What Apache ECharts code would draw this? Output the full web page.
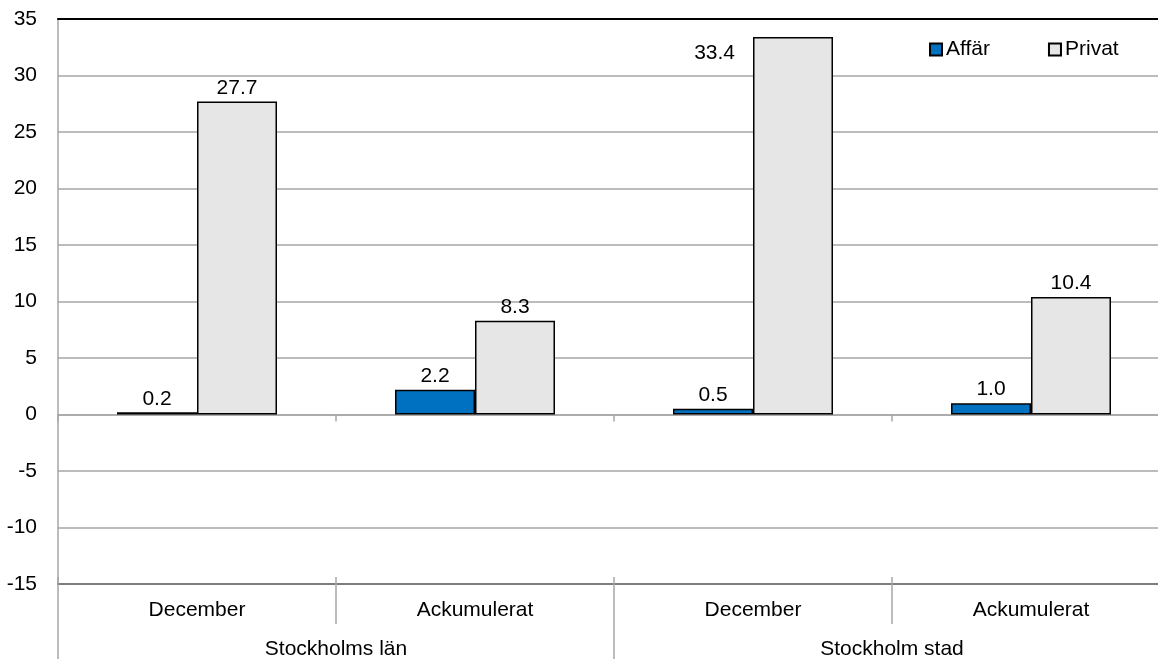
<!DOCTYPE html>
<html><head><meta charset="utf-8">
<script src="https://cdn.jsdelivr.net/npm/echarts@6/dist/echarts.min.js"></script>
<style>html,body{margin:0;padding:0;background:#fff}#c{width:1158px;height:659px}</style>
</head><body><div id="c"></div>
<script>
const categories = ['December', 'Ackumulerat', 'December', 'Ackumulerat'];
const groups = ['Stockholms län', 'Stockholm stad'];
const affar = [0.2, 2.2, 0.5, 1.0];
const privat = [27.7, 8.3, 33.4, 10.4];
const yTicks = { min: -15, max: 35, interval: 5 };

const FONT = 'Liberation Sans, Arial, sans-serif';
const FS = 21;
const GRID = '#a6a6a6';
const chart = echarts.init(document.getElementById('c'));
const lbl = { show: true, position: 'top', distance: 3, color: '#000', fontSize: FS, fontFamily: FONT, formatter: p => p.value.toFixed(1) };
const privatData = privat.map(v => v > 30
  ? { value: v, label: { position: [-18, 16], align: 'right', verticalAlign: 'middle' } }
  : v);
chart.setOption({
  animation: false,
  textStyle: { fontFamily: FONT },
  grid: { left: 58, width: 1112, top: 19, bottom: 75, containLabel: false, outerBoundsMode: 'none' },
  legend: {
    left: 929, top: 39, padding: 0, itemWidth: 12, itemHeight: 12, itemGap: 58,
    textStyle: { fontSize: FS, color: '#000', fontFamily: FONT, padding: [0, 0, 0, -1] },
    data: [{ name: 'Affär', icon: 'rect' }, { name: 'Privat', icon: 'rect' }]
  },
  xAxis: [
    { type: 'category', data: categories, position: 'bottom',
      axisLine: { onZero: false, lineStyle: { color: '#000', width: 2 } },
      axisTick: { show: true, length: 40, lineStyle: { color: GRID, width: 1.5 } },
      axisLabel: { color: '#000', fontSize: FS, margin: 16, fontFamily: FONT } },
    { type: 'category', data: groups, position: 'bottom',
      axisLine: { show: false, onZero: false },
      axisTick: { show: true, length: 76, lineStyle: { color: GRID, width: 1.5 } },
      axisLabel: { color: '#000', fontSize: FS, margin: 55, fontFamily: FONT } },
    { type: 'category', data: categories, position: 'bottom',
      axisLine: { show: false, onZero: false },
      axisTick: { show: true, inside: true, length: 6, lineStyle: { color: GRID, width: 1.5 } },
      axisLabel: { show: false } },
    { type: 'category', data: categories, position: 'bottom',
      axisLine: { onZero: true, lineStyle: { color: GRID, width: 1.5 } },
      axisTick: { show: true, length: 7, lineStyle: { color: GRID, width: 1.5 } },
      axisLabel: { show: false } },
    { type: 'category', data: categories, position: 'bottom',
      axisLine: { onZero: true, lineStyle: { color: GRID, width: 1.5 } },
      axisTick: { show: true, inside: true, length: 7, lineStyle: { color: GRID, width: 1.5 } },
      axisLabel: { show: false } },
    { type: 'category', data: categories, position: 'top',
      axisLine: { show: true, lineStyle: { color: '#000', width: 2 } },
      axisTick: { show: false }, axisLabel: { show: false } }
  ],
  yAxis: {
    type: 'value', min: yTicks.min, max: yTicks.max, interval: yTicks.interval,
    axisLine: { show: true, lineStyle: { color: GRID, width: 1.5 } },
    axisTick: { show: false },
    splitLine: { lineStyle: { color: GRID, width: 1.5 } },
    axisLabel: { color: '#000', fontSize: FS, margin: 21, fontFamily: FONT }
  },
  series: [
    { name: 'Affär', type: 'bar', xAxisIndex: 0, data: affar, barWidth: 80, barGap: '0%',
      itemStyle: { color: '#0070C0', borderColor: '#000', borderWidth: 1.5 }, label: lbl },
    { name: 'Privat', type: 'bar', xAxisIndex: 0, data: privatData, barWidth: 80, barGap: '0%',
      itemStyle: { color: '#E6E6E6', borderColor: '#000', borderWidth: 1.5 }, label: lbl }
  ]
});
</script></body></html>
